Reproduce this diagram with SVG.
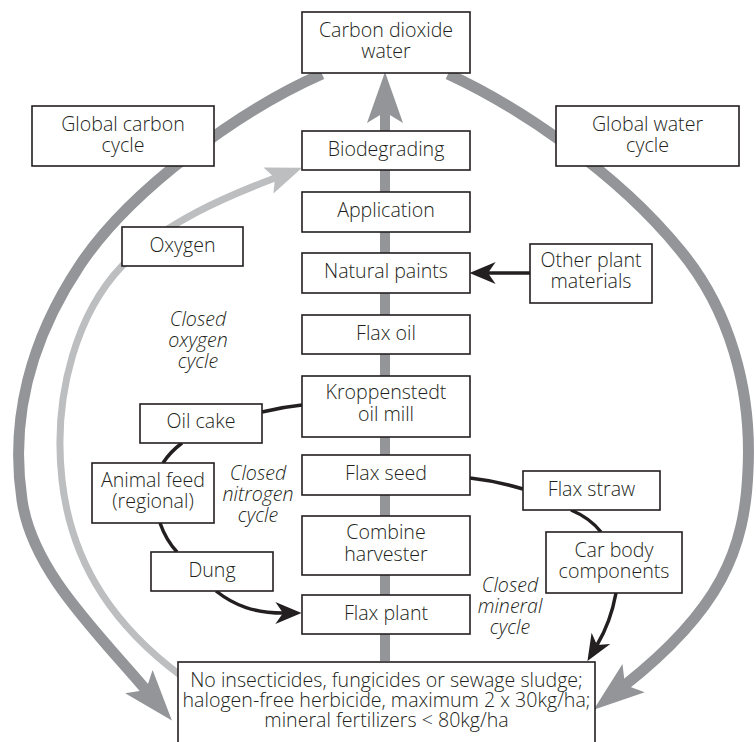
<svg xmlns="http://www.w3.org/2000/svg" width="756" height="742" viewBox="0 0 756 742">
<style>
.box{fill:#fff;stroke:#231f20;stroke-width:1.6}
text{font-family:"Open Sans","Noto Sans","Liberation Sans",sans-serif;font-size:19.6px;font-weight:350;fill:#231f20;text-anchor:middle}
.it{font-style:italic}
.g{fill:none;stroke:#939598;stroke-width:11}
.c{fill:none;stroke:#939598;stroke-width:10}
.l{fill:none;stroke:#bcbec0;stroke-width:7}
.k{fill:none;stroke:#231f20;stroke-width:3.5}
</style>
<defs>
<marker id="ag" markerUnits="userSpaceOnUse" orient="auto" refX="0" refY="0" markerWidth="60" markerHeight="40" viewBox="-12 -20 54 40" overflow="visible">
<path d="M40,0 L-11,-18 L0,0 L-11,18 Z" fill="#939598"/>
</marker>
<marker id="al" markerUnits="userSpaceOnUse" orient="auto" refX="0" refY="0" markerWidth="40" markerHeight="30" viewBox="-8 -15 38 30" overflow="visible">
<path d="M29,0 L-7,-14 L0,0 L-7,14 Z" fill="#bcbec0"/>
</marker>
<marker id="ak" markerUnits="userSpaceOnUse" orient="auto" refX="0" refY="0" markerWidth="30" markerHeight="24" viewBox="-8 -11 26 22" overflow="visible">
<path d="M17,0 L-7,-10 L0,0 L-7,10 Z" fill="#231f20"/>
</marker>
</defs>
<g id="connectors">
<path class="g" d="M322,74 C240,110 130,190 80,265 C30,340 10,420 22,500 C32,570 95,630 146,690" marker-end="url(#ag)"/>
<path class="g" d="M448,74 C515,105 615,170 680,250 C730,310 752,390 748,470 C745,550 720,610 625,685" marker-end="url(#ag)"/>
<path class="c" d="M385,661 L385,112" marker-end="url(#ag)"/>
<path class="l" d="M180,675 C120,630 72,570 62,480 C52,390 80,310 122,266 C164,222 230,195 275,178" marker-end="url(#al)"/>
<path class="k" d="M530,273 L488,273" marker-end="url(#ak)"/>
<path class="k" d="M302,405 Q282,407 262,412"/>
<path class="k" d="M182,443 Q170,452 163,463"/>
<path class="k" d="M160,523 Q166,540 177,552"/>
<path class="k" d="M216,591 C235,606 255,613 283,613" marker-end="url(#ak)"/>
<path class="k" d="M470,478 Q497,481 523,489"/>
<path class="k" d="M571,510 Q590,518 601,532"/>
<path class="k" d="M616,593 C612,615 606,630 597,645" marker-end="url(#ak)"/>
</g>
<g id="co2"><rect class="box" x="302" y="12" width="168" height="61"/><text x="386" y="37">Carbon dioxide<tspan x="386" dy="21">water</tspan></text></g>
<g id="global-carbon"><rect class="box" x="32" y="106" width="182" height="60"/><text x="123" y="131">Global carbon<tspan x="123" dy="21">cycle</tspan></text></g>
<g id="global-water"><rect class="box" x="556" y="106" width="183" height="60"/><text x="647.5" y="131">Global water<tspan x="647.5" dy="21">cycle</tspan></text></g>
<g id="biodegrading"><rect class="box" x="302" y="131" width="168" height="39"/><text x="386" y="156">Biodegrading</text></g>
<g id="application"><rect class="box" x="302" y="192" width="168" height="40"/><text x="386" y="217">Application</text></g>
<g id="oxygen"><rect class="box" x="122" y="227" width="121" height="39"/><text x="182.5" y="252">Oxygen</text></g>
<g id="natural-paints"><rect class="box" x="302" y="253" width="168" height="40"/><text x="386" y="278">Natural paints</text></g>
<g id="other-plant"><rect class="box" x="530" y="244" width="122" height="59"/><text x="591" y="267">Other plant<tspan x="591" dy="21">materials</tspan></text></g>
<g id="flax-oil"><rect class="box" x="302" y="315" width="168" height="39"/><text x="386" y="340">Flax oil</text></g>
<g id="oxygen-cycle"><text class="it" x="198" y="326">Closed<tspan x="198" dy="21">oxygen</tspan><tspan x="198" dy="21">cycle</tspan></text></g>
<g id="oil-mill"><rect class="box" x="302" y="376" width="168" height="61"/><text x="386" y="399">Kroppenstedt<tspan x="386" dy="22">oil mill</tspan></text></g>
<g id="oil-cake"><rect class="box" x="140" y="404" width="122" height="39"/><text x="201" y="428">Oil cake</text></g>
<g id="flax-seed"><rect class="box" x="302" y="455" width="168" height="40"/><text x="386" y="480">Flax seed</text></g>
<g id="flax-straw"><rect class="box" x="523" y="471" width="137" height="39"/><text x="591.5" y="496">Flax straw</text></g>
<g id="animal-feed"><rect class="box" x="92" y="463" width="122" height="60"/><text x="153" y="487">Animal feed<tspan x="153" dy="21">(regional)</tspan></text></g>
<g id="nitrogen-cycle"><text class="it" x="258" y="480">Closed<tspan x="258" dy="21">nitrogen</tspan><tspan x="258" dy="21">cycle</tspan></text></g>
<g id="combine"><rect class="box" x="302" y="516" width="168" height="59"/><text x="386" y="539">Combine<tspan x="386" dy="22">harvester</tspan></text></g>
<g id="car-body"><rect class="box" x="546" y="532" width="136" height="61"/><text x="614" y="557">Car body<tspan x="614" dy="21">components</tspan></text></g>
<g id="dung"><rect class="box" x="151" y="552" width="122" height="39"/><text x="212" y="577">Dung</text></g>
<g id="mineral-cycle"><text class="it" x="510" y="592">Closed<tspan x="510" dy="21">mineral</tspan><tspan x="510" dy="21">cycle</tspan></text></g>
<g id="flax-plant"><rect class="box" x="302" y="595" width="168" height="39"/><text x="386" y="620">Flax plant</text></g>
<g id="cultivation"><rect class="box" x="178" y="662" width="417" height="90"/><text x="386.5" y="687">No insecticides, fungicides or sewage sludge;<tspan x="386.5" dy="20">halogen-free herbicide, maximum 2 x 30kg/ha;</tspan><tspan x="386.5" dy="20">mineral fertilizers &lt; 80kg/ha</tspan></text></g>
</svg>
